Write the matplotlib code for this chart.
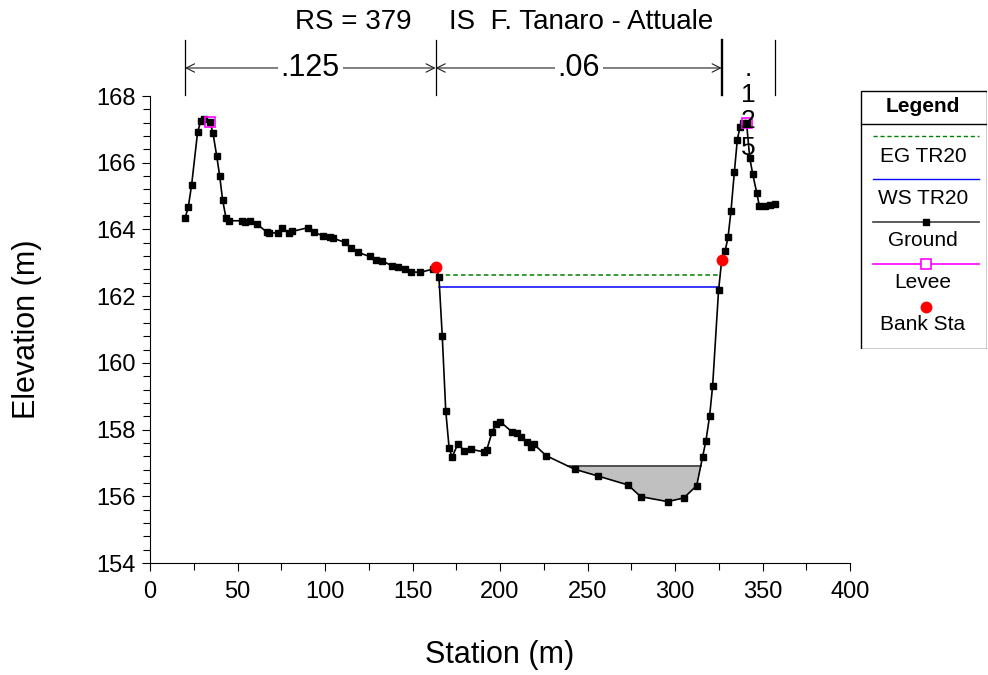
import numpy as np
import matplotlib.pyplot as plt
from matplotlib.ticker import MultipleLocator
from matplotlib.patches import Rectangle

plt.rcParams['font.family'] = ['Liberation Sans', 'DejaVu Sans']

# ground profile
station = [20.0, 21.9, 23.8, 27.2, 29.1, 31.0, 34.3, 36.0, 38.1, 39.8,
           41.5, 43.4, 45.1, 52.4, 54.3, 57.1, 61.0, 66.7, 68.2, 73.3,
           75.6, 79.4, 81.3, 90.1, 93.5, 98.7, 102.9, 104.6, 111.4, 115.0,
           118.7, 125.7, 129.1, 132.8, 138.1, 141.9, 145.7, 149.0, 154.3, 161.5,
           163.2, 165.1, 167.0, 169.0, 170.9, 172.6, 176.0, 179.6, 183.2, 191.0,
           192.4, 195.6, 197.7, 200.0, 206.7, 209.5, 211.8, 215.2, 217.5, 219.4,
           226.3, 242.7, 255.8, 273.1, 280.4, 295.8, 305.0, 312.4, 315.8, 317.7,
           319.8, 321.5, 324.9, 326.7, 328.6, 330.3, 332.0, 333.9, 335.6, 337.1,
           339.0, 340.9, 342.7, 344.4, 346.7, 348.2, 351.4, 354.3, 357.1]
elevation = [164.33, 164.68, 165.34, 166.92, 167.26, 167.30, 167.23, 166.88, 166.21, 165.61,
             164.88, 164.35, 164.26, 164.26, 164.23, 164.25, 164.17, 163.92, 163.89, 163.90,
             164.05, 163.90, 163.94, 164.05, 163.92, 163.81, 163.78, 163.74, 163.61, 163.44,
             163.31, 163.19, 163.09, 163.06, 162.91, 162.88, 162.81, 162.73, 162.71, 162.81,
             162.88, 162.58, 160.81, 158.56, 157.46, 157.17, 157.58, 157.36, 157.41, 157.33,
             157.39, 157.94, 158.17, 158.24, 157.94, 157.89, 157.77, 157.64, 157.49, 157.56,
             157.22, 156.81, 156.61, 156.34, 155.99, 155.84, 155.95, 156.32, 157.19, 157.67,
             158.42, 159.31, 162.18, 163.08, 163.35, 163.76, 164.56, 165.71, 166.68, 167.06,
             167.18, 167.18, 166.15, 165.66, 165.10, 164.70, 164.70, 164.73, 164.75]

levee_sta = [34.3, 340.9]
levee_elev = [167.23, 167.18]
bank_sta = [163.2, 326.7]
bank_elev = [162.88, 163.08]

ws_elev = 162.28
eg_elev = 162.63
sediment_elev = 156.90

n_breaks = [20.0, 163.2, 326.7, 357.1]
n_values = ['.125', '.06', '.125']

legend_labels = ['EG TR20', 'WS TR20', 'Ground', 'Levee', 'Bank Sta']

st = np.array(station)
el = np.array(elevation)


def crossings(level):
    # stations where the ground profile crosses a given level
    out = []
    for i in range(len(st) - 1):
        a, b = el[i] - level, el[i + 1] - level
        if a == 0:
            out.append(st[i])
        elif a * b < 0:
            out.append(st[i] + (st[i + 1] - st[i]) * a / (a - b))
    return out


fig = plt.figure(figsize=(9.88, 6.75), dpi=100)
ax = fig.add_axes([150 / 988, 1 - 563 / 675, 700 / 988, 467 / 675])

# sediment / fill in the bottom of the channel
ax.fill_between(st, el, sediment_elev, where=el < sediment_elev, interpolate=True,
                facecolor='#c0c0c0', edgecolor='none', zorder=1)
sx = crossings(sediment_elev)
ax.plot([sx[0], sx[-1]], [sediment_elev, sediment_elev], color='#505050', lw=1.4, zorder=2)

# water surface and energy grade
wx = crossings(ws_elev)
ax.plot([wx[0], wx[-1]], [ws_elev, ws_elev], color='#0000ff', lw=1.1, zorder=3)
ex = crossings(eg_elev)
ax.plot([ex[0], ex[-1]], [eg_elev, eg_elev], color='#008000', lw=1.1,
        ls=(0, (3, 2)), zorder=3)

ax.plot(st, el, color='black', lw=1.2, marker='s', ms=5, zorder=4)
ax.plot(levee_sta, levee_elev, ls='none', marker='s', ms=7, mfc='none',
        mec='#ff00ff', mew=1.2, zorder=5)
ax.plot(bank_sta, bank_elev, ls='none', marker='o', ms=7.5, color='#ff0000', zorder=6)

ax.set_xlim(0, 400)
ax.set_ylim(154, 168)
ax.xaxis.set_major_locator(MultipleLocator(50))
ax.xaxis.set_minor_locator(MultipleLocator(25))
ax.yaxis.set_major_locator(MultipleLocator(2))
ax.yaxis.set_minor_locator(MultipleLocator(0.4))
ax.tick_params(which='both', direction='out', width=0.8, labelsize=17)
ax.tick_params(axis='x', pad=7)
ax.tick_params(axis='y', pad=4)
ax.tick_params(which='major', length=6)
ax.tick_params(which='minor', length=5)
ax.spines['top'].set_visible(False)
ax.spines['right'].set_visible(False)

ax.set_xlabel('Station (m)', fontsize=22)
ax.set_ylabel('Elevation (m)', fontsize=22)
ax.xaxis.set_label_coords(0.5, -92 / 467)
ax.xaxis.label.set_verticalalignment('center')
ax.yaxis.set_label_coords(-123 / 700, 0.5)
ax.yaxis.label.set_verticalalignment('center')

# Manning's n bar above the plot
y_lo, y_hi, y_arr = 168.03, 169.68, 168.84
for i, b in enumerate(n_breaks):
    ax.plot([b, b], [y_lo, y_hi], color='black', lw=1.7 if i == 2 else 0.9,
            clip_on=False)
for i, n in enumerate(n_values):
    x0, x1 = n_breaks[i], n_breaks[i + 1]
    xm = (x0 + x1) / 2
    if x1 - x0 > 60:
        ax.annotate('', xy=(x1, y_arr), xytext=(x0, y_arr), annotation_clip=False,
                    arrowprops=dict(arrowstyle='<->', lw=0.8, color='#202020',
                                    shrinkA=0, shrinkB=0, mutation_scale=15))
        ax.text(xm, y_arr, n, ha='center', va='center', fontsize=22, clip_on=False,
                bbox=dict(facecolor='white', edgecolor='none', pad=2))
    else:
        # narrow zone: value written one character per line
        for k, ch in enumerate(n):
            ax.text(xm, 168.82 - 0.79 * k, ch, ha='center', va='center',
                    fontsize=19, clip_on=False, zorder=7)

fig.text(295 / 988, 1 - 22 / 675, 'RS = 379', ha='left', va='center', fontsize=20)
fig.text(449 / 988, 1 - 22 / 675, 'IS  F. Tanaro - Attuale', ha='left', va='center',
         fontsize=20)

# legend box, handles above labels
lg = fig.add_axes([860 / 988, 1 - 349 / 675, 127 / 988, 259 / 675])
lg.set_xlim(0, 127)
lg.set_ylim(349, 90)
lg.axis('off')
lg.add_patch(Rectangle((0.5, 90.5), 126, 258, fill=False, edgecolor='black', lw=1))
lg.plot([0.5, 126.5], [124, 124], color='black', lw=1)
lg.text(63, 107, 'Legend', ha='center', va='center', fontsize=15, fontweight='bold')
line_y = [136, 179, 222, 264, 307]
text_y = [156, 198, 241, 283, 325]
lx = [13, 119]
lg.plot(lx, [line_y[0]] * 2, color='#008000', lw=1, ls=(0, (3, 2)))
lg.plot(lx, [line_y[1]] * 2, color='#0000ff', lw=1)
lg.plot(lx, [line_y[2]] * 2, color='#404040', lw=1.2)
lg.plot([66], [line_y[2]], marker='s', ms=5, color='black')
lg.plot(lx, [line_y[3]] * 2, color='#ff00ff', lw=1.2)
lg.plot([66], [line_y[3]], marker='s', ms=7, mfc='white', mec='#ff00ff', mew=1.2)
lg.plot([66], [line_y[4]], marker='o', ms=7.5, color='#ff0000')
for lab, ty in zip(legend_labels, text_y):
    lg.text(63, ty, lab, ha='center', va='center', fontsize=15)

fig.savefig('out.png', dpi=100)
